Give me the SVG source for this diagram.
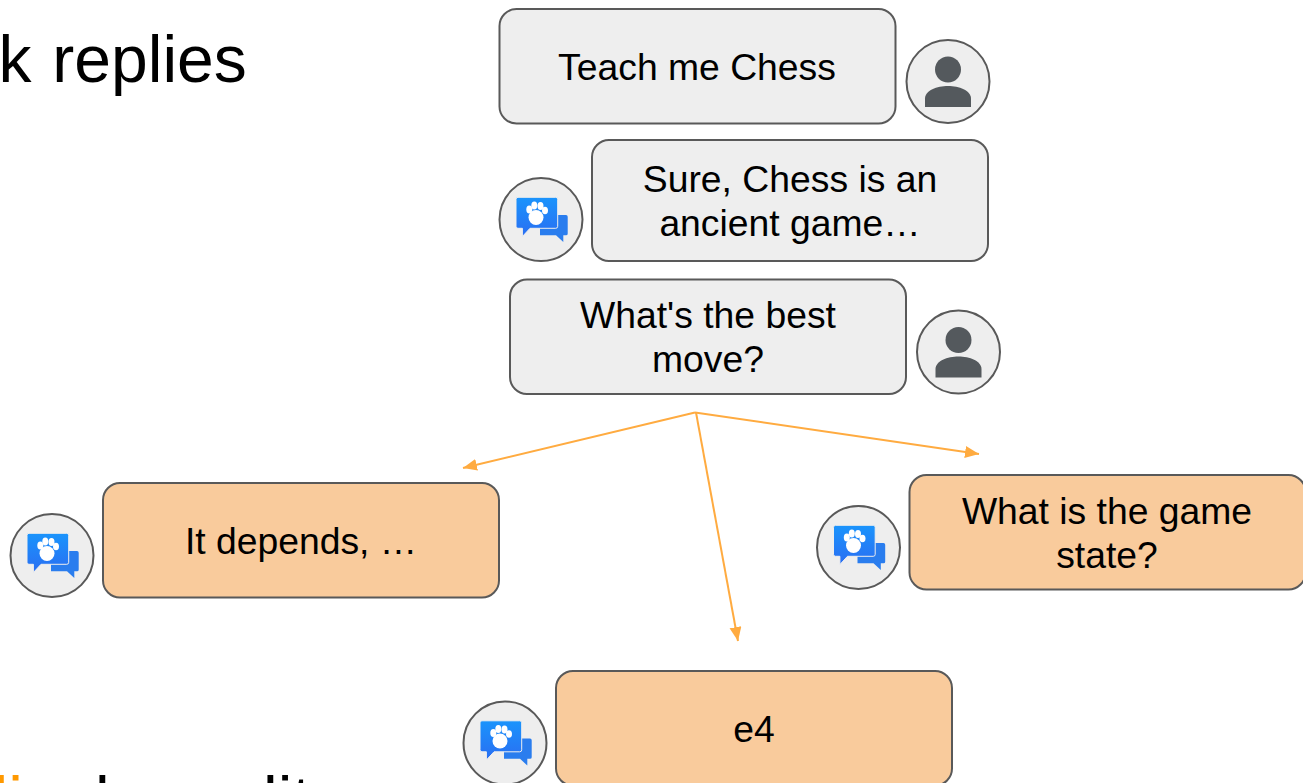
<svg xmlns="http://www.w3.org/2000/svg" width="1303" height="783" viewBox="0 0 1303 783">
<style>
text{font-family:"Liberation Sans",Arial,sans-serif;fill:#000}
.t{font-size:37.3px;text-anchor:middle}
.h{font-size:66px}
.or{fill:#ff9900}
.box{stroke:#595959;stroke-width:2}
.g{fill:#eeeeee}
.o{fill:#f9cb9c}
.c{stroke:#595959;stroke-width:2}
.e{fill:none;stroke:#ffab40;stroke-width:2}
</style>
<defs>
<marker id="a" markerUnits="userSpaceOnUse" markerWidth="15" markerHeight="13" refX="14" refY="6" orient="auto"><path d="M0 0L14 6L0 12Z" fill="#ffab40"/></marker>
<linearGradient id="bb" x1="0" y1="0" x2="0" y2="1"><stop offset="0" stop-color="#1a94fc"/><stop offset="1" stop-color="#2a6ef2"/></linearGradient>
<g id="user">
<circle r="41.5" class="c" fill="#eeeeee"/>
<circle cx="0" cy="-12" r="13" fill="#54595d"/>
<path d="M-23 25.500V17C-23 9 -11 4.500 0 4.500S23 9 23 17V25.500Z" fill="#54595d"/>
</g>
<g id="bot">
<circle r="41.5" class="c" fill="#eeeeee"/>
<path d="M-1 -4.500H25Q26.700 -4.500 26.700 -2.800V14.200Q26.700 15.800 25 15.800H22.300V22.500L15 15.800H-1Z" fill="#2a7dee"/>
<path d="M-23 -22.200H14.700Q16.700 -22.200 16.700 -20.200V6.800Q16.700 8.800 14.700 8.800H-11L-18.600 17V8.800H-23Q-25 8.800 -25 6.800V-20.200Q-25 -22.200 -23 -22.200Z" fill="url(#bb)" stroke="#eeeeee" stroke-width="1"/>
<g fill="#ffffff">
<ellipse cx="-5" cy="-2" rx="7.500" ry="7.500"/>
<ellipse cx="-11.700" cy="-10" rx="3" ry="4"/>
<ellipse cx="-6.700" cy="-14" rx="3" ry="4"/>
<ellipse cx="-0.500" cy="-13.500" rx="3" ry="4"/>
<ellipse cx="4" cy="-9" rx="3" ry="3.800"/>
</g>
</g>
</defs>
<g id="heading">
<text class="h" x="-1.500" y="82" word-spacing="2.500">k replies</text>
<text class="h or" x="-6.500" y="823">li</text>
<text class="h" x="95" y="823">l</text>
<text class="h" x="263" y="823">lit</text>
</g>
<g id="connectors">
<path class="e" d="M695 412.500L463 468" marker-end="url(#a)"/>
<path class="e" d="M695 412.500L979 454" marker-end="url(#a)"/>
<path class="e" d="M696 412.500L738 641" marker-end="url(#a)"/>
</g>
<g id="n1">
<rect class="box g" x="499.500" y="9" width="396" height="114.500" rx="17"/>
<text class="t" x="697" y="80">Teach me Chess</text>
<use href="#user" x="948" y="81.500"/>
</g>
<g id="n2">
<rect class="box g" x="592" y="140" width="396" height="121" rx="17"/>
<text class="t" x="790" y="192">Sure, Chess is an</text>
<text class="t" x="790" y="236">ancient game…</text>
<use href="#bot" x="541" y="219.500"/>
</g>
<g id="n3">
<rect class="box g" x="510" y="279.500" width="396" height="114.500" rx="17"/>
<text class="t" x="708" y="328">What's the best</text>
<text class="t" x="708" y="372">move?</text>
<use href="#user" x="958.500" y="352"/>
</g>
<g id="n4">
<rect class="box o" x="103" y="483" width="396" height="114.500" rx="17"/>
<text class="t" x="301" y="554">It depends, …</text>
<use href="#bot" x="52" y="555.500"/>
</g>
<g id="n5">
<rect class="box o" x="909.500" y="475" width="396" height="114.500" rx="17"/>
<text class="t" x="1107" y="524">What is the game</text>
<text class="t" x="1107" y="568">state?</text>
<use href="#bot" x="858.500" y="547.500"/>
</g>
<g id="n6">
<rect class="box o" x="556" y="671" width="396" height="114.500" rx="17"/>
<text class="t" x="754" y="742">e4</text>
<use href="#bot" x="505" y="743"/>
</g>
</svg>
